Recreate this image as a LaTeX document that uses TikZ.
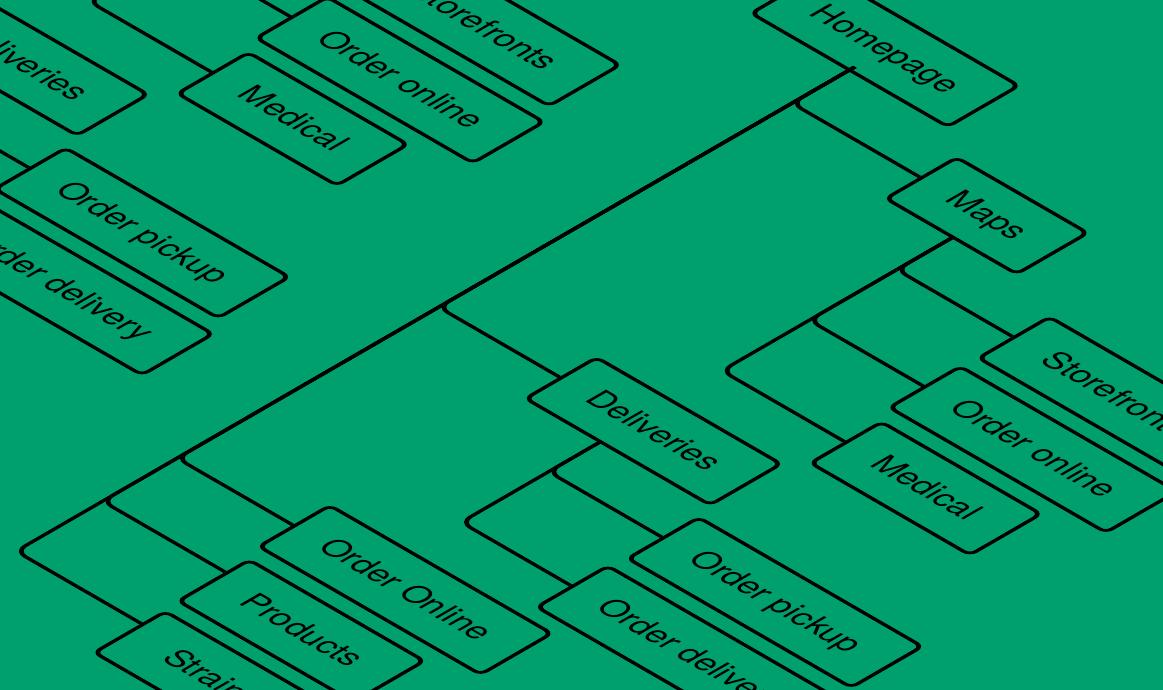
\documentclass[tikz,border=0pt]{standalone}
\usepackage{fontspec}
\setmainfont{TeX Gyre Heros}
\definecolor{sitegreen}{RGB}{0,159,110}

\begin{document}
\begin{tikzpicture}
            % frame: 1163 x 690 px, 1 px = 0.01cm
            \useasboundingbox (0,0) rectangle (11.63,-6.90);
            \fill[sitegreen] (0,0) rectangle (11.63,-6.90);
            \clip (0,0) rectangle (11.63,-6.90);

            % the sitemap, drawn flat and laid into the isometric plane (twice)
            \foreach \dx/\dy in {-0.05/0,-7.40/0.04}{
            \begin{scope}[transform canvas={cm={0.866,-0.5,0.866,0.5,(0,0)}},
                xshift=\dx cm, yshift=\dy cm,
                page/.style={draw, line width=1.1pt, fill=sitegreen, rounded corners=2pt,
                    minimum height=0.82cm, inner sep=0pt, anchor=west,
                    text height=0.75em, text depth=0.2em,
                    font=\fontsize{9.25}{11}\selectfont},
                link/.style={line width=1.1pt, rounded corners=3pt}]

            % root
            \node[page, minimum width=2.27cm] (home) at (4.50,4.615) {Homepage};

            % first level
            \node[page, minimum width=1.51cm] (maps) at (7.13,3.54) {Maps};
            \node[page, minimum width=2.13cm] (deliv) at (7.05,-0.54) {Deliveries};
            \node[page, minimum width=2.56cm] (online) at (6.99,-3.56) {Order Online};
            \node[page, minimum width=2.02cm] (products) at (7.07,-4.57) {Products};
            \node[page, minimum width=1.90cm] (strains) at (7.10,-5.57) {Strains};

            % second level
            \node[page, minimum width=2.35cm] (stores) at (9.26,2.48) {Storefronts};
            \node[page, minimum width=2.50cm] (maponline) at (9.24,1.47) {Order online};
            \node[page, minimum width=1.84cm] (medical) at (9.34,0.46) {Medical};
            \node[page, minimum width=2.58cm] (pickup) at (9.24,-1.55) {Order pickup};
            \node[page, minimum width=2.75cm] (delivery) at (9.20,-2.56) {Order delivery};

            % connectors
            \foreach \child in {maps,deliv,online}
                \draw[link] ([yshift=0.08cm]home.south) |- (\child.west);
            \foreach \child in {products,strains}
                \draw[link] ([yshift=0.08cm]home.south) |- ([yshift=0.15cm]\child.west);
            \foreach \child in {stores,maponline,medical}
                \draw[link] ([xshift=0.02cm]maps.south) |- (\child.west);
            \foreach \child in {pickup,delivery}
                \draw[link] ([xshift=-0.2cm]deliv.south) |- (\child.west);
            \end{scope}}
        \end{tikzpicture}
\end{document}
